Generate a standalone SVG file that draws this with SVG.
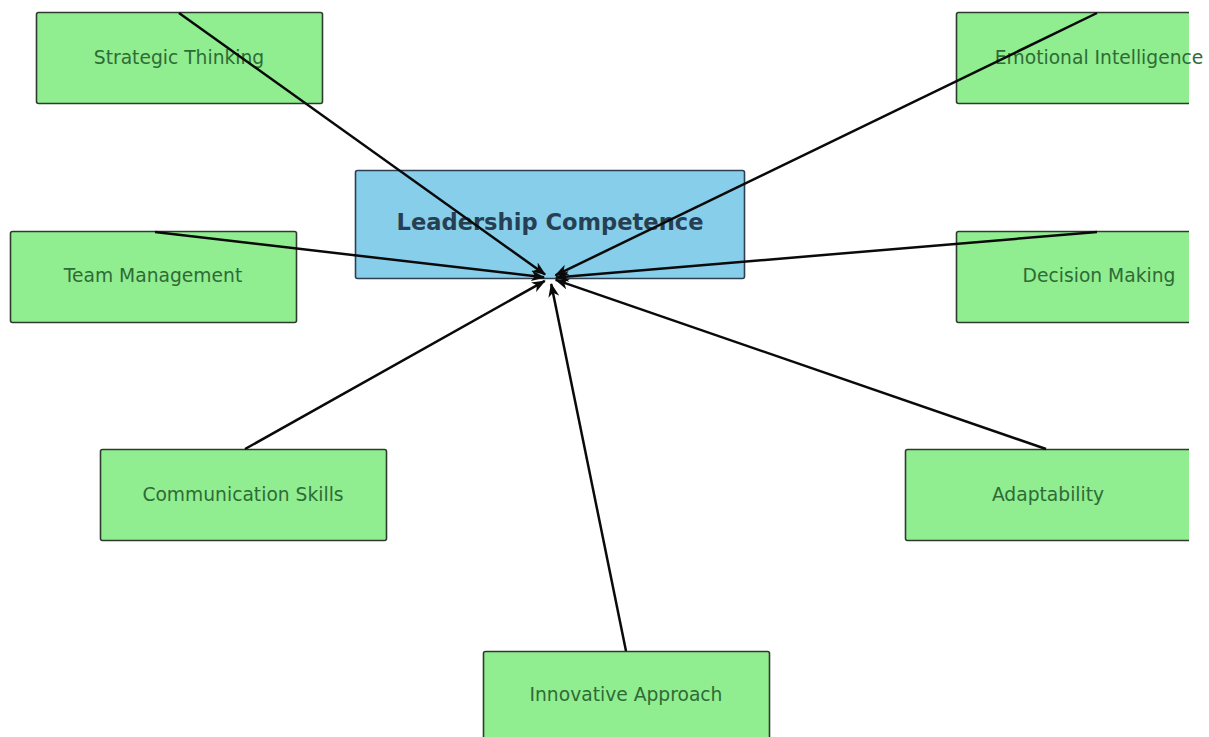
<svg xmlns="http://www.w3.org/2000/svg" width="1209" height="737" viewBox="0 0 1209 737">
<defs>
<style>
.box{fill:#90ee90;stroke:#2f3a2f;stroke-width:1.6}
.center{fill:#87ceeb;stroke:#2c3e50;stroke-width:1.6}
.lbl{font-family:"DejaVu Sans",sans-serif;font-size:18.7px;fill:#2e6b35;text-anchor:middle;dominant-baseline:central}
.title{font-family:"DejaVu Sans",sans-serif;font-size:22.6px;font-weight:bold;fill:#263f52;text-anchor:middle;dominant-baseline:central}
.edge{stroke:#0a0a0a;stroke-width:2.5;fill:none;marker-end:url(#ah)}
</style>
<marker id="ah" markerUnits="userSpaceOnUse" markerWidth="14" markerHeight="11" viewBox="0 0 14 11" refX="13" refY="5.5" orient="auto">
<path d="M0,0 L14,5.5 L0,11 L4,5.5 Z" fill="#0a0a0a"/>
</marker>
<clipPath id="clip"><rect x="0" y="0" width="1189" height="737"/></clipPath>
</defs>
<rect width="1209" height="737" fill="#fff"/>
<g id="nodes">
<g id="center-node"><rect class="center" x="355.5" y="170.5" width="389" height="108" rx="2"/><text class="title" x="550" y="222">Leadership Competence</text></g>
<g id="strategic"><rect class="box" x="36.5" y="12.5" width="286" height="91" rx="2"/><text class="lbl" x="179" y="57">Strategic Thinking</text></g>
<g id="team"><rect class="box" x="10.5" y="231.5" width="286" height="91" rx="2"/><text class="lbl" x="153" y="275">Team Management</text></g>
<g id="communication"><rect class="box" x="100.5" y="449.5" width="286" height="91" rx="2"/><text class="lbl" x="243" y="494">Communication Skills</text></g>
<g id="innovative"><rect class="box" x="483.5" y="651.5" width="286" height="91" rx="2"/><text class="lbl" x="626" y="694">Innovative Approach</text></g>
<g id="adaptability"><rect class="box" x="905.5" y="449.5" width="286" height="91" rx="2" clip-path="url(#clip)"/><text class="lbl" x="1048" y="494">Adaptability</text></g>
<g id="decision"><rect class="box" x="956.5" y="231.5" width="286" height="91" rx="2" clip-path="url(#clip)"/><text class="lbl" x="1099" y="275">Decision Making</text></g>
<g id="emotional"><rect class="box" x="956.5" y="12.5" width="286" height="91" rx="2" clip-path="url(#clip)"/><text class="lbl" x="1099" y="57">Emotional Intelligence</text></g>
</g>
<g id="connectors">
<line class="edge" x1="179" y1="13" x2="545.1" y2="274.5"/>
<line class="edge" x1="1097" y1="13" x2="555.4" y2="275.4"/>
<line class="edge" x1="155" y1="232" x2="544" y2="277.3"/>
<line class="edge" x1="1097" y1="232" x2="556" y2="277.5"/>
<line class="edge" x1="245" y1="449" x2="544.8" y2="280.9"/>
<line class="edge" x1="1046" y1="449" x2="555.7" y2="279.9"/>
<line class="edge" x1="626" y1="651" x2="551.2" y2="283.9"/>
</g>
</svg>
